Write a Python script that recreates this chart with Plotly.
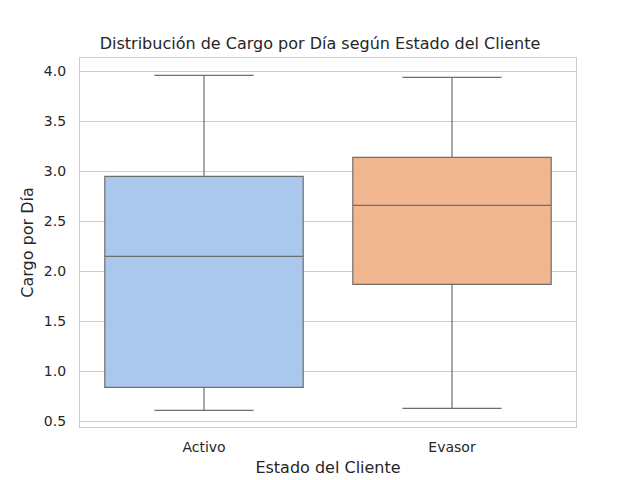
import plotly.graph_objects as go

categories = ["Activo", "Evasor"]
lower_whisker = [0.61, 0.63]
q1 = [0.84, 1.87]
median = [2.15, 2.66]
q3 = [2.95, 3.14]
upper_whisker = [3.96, 3.94]
colors = ["#aac8ec", "#f0b690"]

fig = go.Figure()
for i, c in enumerate(categories):
    fig.add_trace(go.Box(
        x=[c], q1=[q1[i]], median=[median[i]], q3=[q3[i]],
        lowerfence=[lower_whisker[i]], upperfence=[upper_whisker[i]],
        fillcolor=colors[i], line=dict(color="#6e6e6e", width=1.2),
        width=0.8, whiskerwidth=0.5, boxpoints=False, showlegend=False,
        hoverinfo="skip",
    ))

font = "DejaVu Sans, sans-serif"
fig.update_layout(
    width=640, height=480,
    margin=dict(l=80, r=64, t=58, b=53),
    paper_bgcolor="white", plot_bgcolor="white",
    font=dict(family=font, color="#262626", size=14),
    title=dict(text="Distribución de Cargo por Día según Estado del Cliente",
               x=0.5, xanchor="center", y=1 - 43 / 480, yanchor="middle",
               font=dict(size=16, color="#262626")),
    xaxis=dict(type="category", range=[-0.5, 1.5], showgrid=False,
               showline=True, linecolor="#cccccc", linewidth=1.25, mirror=True,
               ticks="outside", ticklen=7, tickcolor="rgba(0,0,0,0)",
               tickfont=dict(size=14), automargin=False,
               title=dict(text="Estado del Cliente", font=dict(size=16), standoff=7)),
    yaxis=dict(range=[0.4436, 4.134], tickvals=[0.5, 1.0, 1.5, 2.0, 2.5, 3.0, 3.5, 4.0],
               ticktext=["0.5", "1.0", "1.5", "2.0", "2.5", "3.0", "3.5", "4.0"],
               showgrid=True, gridcolor="#cccccc", gridwidth=1.1,
               showline=True, linecolor="#cccccc", linewidth=1.25, mirror=True,
               zeroline=False, ticks="outside", ticklen=10, tickcolor="rgba(0,0,0,0)",
               tickfont=dict(size=14), automargin=False,
               title=dict(text="Cargo por Día", font=dict(size=16), standoff=6)),
)

fig.write_html("out.html", config={"displayModeBar": False})

with open("out.html", "r", encoding="utf-8") as f:
    html = f.read()
html = html.replace("<head>", "<head><style>html,body{margin:0;padding:0;}</style>", 1)
with open("out.html", "w", encoding="utf-8") as f:
    f.write(html)
